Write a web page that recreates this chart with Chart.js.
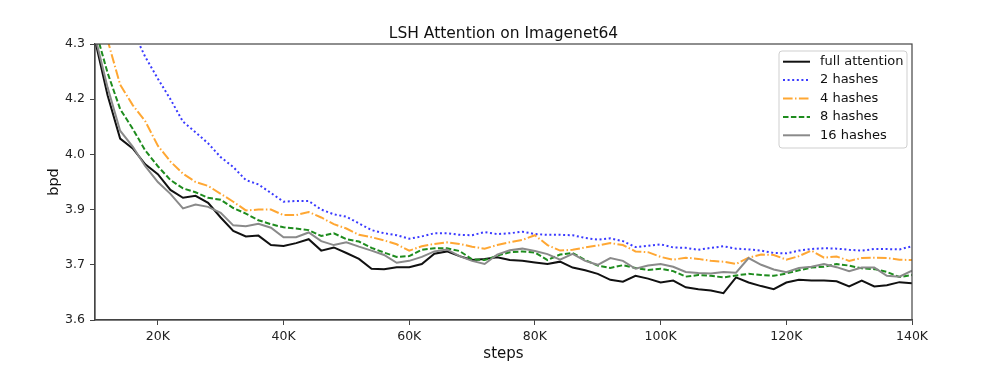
<!DOCTYPE html>
<html>
<head>
<meta charset="utf-8">
<title>LSH Attention on Imagenet64</title>
<script src="https://cdn.jsdelivr.net/npm/chart.js@4.4.0/dist/chart.umd.min.js"></script>
<style>
  html, body { margin: 0; padding: 0; background: #fff; }
  #wrap { width: 999px; height: 380px; }
</style>
</head>
<body>
<div id="wrap"><canvas id="myChart" width="999" height="380"></canvas></div>
<script>
// steps, in thousands
var steps = [10, 12, 14, 16, 18, 20, 22, 24, 26, 28, 30, 32, 34, 36, 38, 40, 42, 44, 46, 48,
             50, 52, 54, 56, 58, 60, 62, 64, 66, 68, 70, 72, 74, 76, 78, 80, 82, 84, 86, 88,
             90, 92, 94, 96, 98, 100, 102, 104, 106, 108, 110, 112, 114, 116, 118, 120, 122, 124, 126, 128,
             130, 132, 134, 136, 138, 140];

var fullAttention = [4.31, 4.17, 4.06, 4.035, 3.995, 3.97, 3.93, 3.91, 3.915, 3.897,
                     3.86, 3.826, 3.812, 3.814, 3.79, 3.788, 3.795, 3.805, 3.776, 3.784,
                     3.77, 3.755, 3.73, 3.729, 3.734, 3.734, 3.742, 3.768, 3.774, 3.762,
                     3.752, 3.755, 3.759, 3.752, 3.75, 3.746, 3.742, 3.748, 3.733, 3.726,
                     3.717, 3.702, 3.697, 3.712, 3.705, 3.695, 3.70, 3.683, 3.678, 3.675,
                     3.668, 3.708, 3.695, 3.686, 3.678, 3.695, 3.702, 3.70, 3.70, 3.698,
                     3.685, 3.70, 3.685, 3.688, 3.696, 3.693];

var hashes2 = [4.60, 4.50, 4.42, 4.335, 4.267, 4.212, 4.16, 4.103, 4.076, 4.048,
               4.013, 3.988, 3.955, 3.944, 3.922, 3.90, 3.902, 3.902, 3.88, 3.868,
               3.862, 3.845, 3.828, 3.82, 3.815, 3.806, 3.812, 3.82, 3.82, 3.816,
               3.815, 3.823, 3.818, 3.82, 3.824, 3.818, 3.816, 3.816, 3.815, 3.808,
               3.804, 3.807, 3.80, 3.785, 3.788, 3.792, 3.784, 3.783, 3.778, 3.783,
               3.787, 3.781, 3.779, 3.776, 3.77, 3.769, 3.776, 3.780, 3.782, 3.781,
               3.778, 3.776, 3.780, 3.780, 3.779, 3.787];

var hashes4 = [4.43, 4.31, 4.197, 4.145, 4.104, 4.042, 4.002, 3.971, 3.95, 3.94,
               3.92, 3.90, 3.878, 3.88, 3.88, 3.866, 3.866, 3.874, 3.86, 3.843,
               3.832, 3.816, 3.81, 3.802, 3.792, 3.776, 3.787, 3.793, 3.797, 3.793,
               3.786, 3.781, 3.79, 3.797, 3.803, 3.815, 3.79, 3.776, 3.778, 3.784,
               3.789, 3.795, 3.79, 3.774, 3.772, 3.76, 3.753, 3.758, 3.755, 3.75,
               3.748, 3.742, 3.758, 3.766, 3.765, 3.753, 3.762, 3.776, 3.758, 3.761,
               3.75, 3.757, 3.758, 3.757, 3.753, 3.752];

var hashes8 = [4.34, 4.227, 4.135, 4.085, 4.03, 3.99, 3.955, 3.934, 3.924, 3.91,
               3.905, 3.884, 3.87, 3.853, 3.843, 3.835, 3.832, 3.828, 3.813, 3.82,
               3.805, 3.799, 3.783, 3.771, 3.76, 3.762, 3.778, 3.782, 3.782, 3.775,
               3.754, 3.752, 3.763, 3.772, 3.774, 3.771, 3.752, 3.766, 3.77, 3.752,
               3.738, 3.732, 3.739, 3.732, 3.727, 3.73, 3.724, 3.71, 3.714, 3.712,
               3.708, 3.713, 3.717, 3.714, 3.712, 3.718, 3.726, 3.733, 3.735, 3.742,
               3.738, 3.731, 3.729, 3.722, 3.709, 3.714];

var hashes16 = [4.32, 4.19, 4.08, 4.04, 3.99, 3.95, 3.92, 3.883, 3.893, 3.887,
                3.872, 3.84, 3.838, 3.844, 3.834, 3.81, 3.81, 3.822, 3.80, 3.79,
                3.797, 3.786, 3.776, 3.765, 3.745, 3.75, 3.76, 3.774, 3.779, 3.762,
                3.75, 3.742, 3.766, 3.777, 3.781, 3.775, 3.767, 3.753, 3.768, 3.75,
                3.74, 3.757, 3.75, 3.73, 3.738, 3.742, 3.735, 3.722, 3.719, 3.718,
                3.722, 3.72, 3.757, 3.74, 3.728, 3.721, 3.732, 3.735, 3.742, 3.734,
                3.724, 3.733, 3.733, 3.712, 3.71, 3.725];

var xTicks = [20, 40, 60, 80, 100, 120, 140];
// evenly spaced ticks, shown rounded to one decimal like the original
var yTicks = [3.6, 3.74, 3.88, 4.02, 4.16, 4.3];

function pts(values) {
    return steps.map(function(s, i) { return {x: s, y: values[i]}; });
}

Chart.defaults.font.family = "'DejaVu Sans', sans-serif";
Chart.defaults.color = '#222';

// box around the axes and a matplotlib style legend in the upper right
var framePlugin = {
    id: 'frameAndLegend',
    afterDatasetsDraw: function(chart) {
        var ctx = chart.ctx;
        var area = chart.chartArea;
        ctx.save();
        ctx.strokeStyle = '#444';
        ctx.lineWidth = 1.2;
        ctx.setLineDash([]);
        ctx.strokeRect(area.left, area.top, area.right - area.left, area.bottom - area.top);

        var sets = chart.data.datasets;
        var w = 128, rowH = 18.4;
        var h = sets.length * rowH + 5;
        var x0 = area.right - w - 5, y0 = area.top + 7;
        ctx.beginPath();
        ctx.roundRect(x0, y0, w, h, 3);
        ctx.fillStyle = 'rgba(255,255,255,0.85)';
        ctx.fill();
        ctx.strokeStyle = '#cfcfcf';
        ctx.lineWidth = 1;
        ctx.stroke();

        ctx.font = "13px 'DejaVu Sans'";
        ctx.textBaseline = 'middle';
        ctx.textAlign = 'left';
        for (var i = 0; i < sets.length; i++) {
            var y = y0 + 10.7 + i * rowH;
            ctx.beginPath();
            ctx.setLineDash(sets[i].borderDash || []);
            ctx.strokeStyle = sets[i].borderColor;
            ctx.lineWidth = sets[i].borderWidth;
            ctx.moveTo(x0 + 4, y);
            ctx.lineTo(x0 + 31, y);
            ctx.stroke();
            ctx.setLineDash([]);
            ctx.fillStyle = '#111';
            ctx.fillText(sets[i].label, x0 + 41, y);
        }
        ctx.restore();
    }
};

var ctx = document.getElementById('myChart');

var myChart = new Chart(ctx, {
    type: 'line',
    data: {
        datasets: [
            {
                label: 'full attention',
                data: pts(fullAttention),
                borderColor: '#111111',
                borderWidth: 2,
                order: 4
            },
            {
                label: '2 hashes',
                data: pts(hashes2),
                borderColor: '#3a3aff',
                borderWidth: 2,
                borderDash: [2, 2.6],
                order: 3
            },
            {
                label: '4 hashes',
                data: pts(hashes4),
                borderColor: '#ffa733',
                borderWidth: 2,
                borderDash: [9.6, 2.4, 1.5, 2.4],
                order: 2
            },
            {
                label: '8 hashes',
                data: pts(hashes8),
                borderColor: '#1e8c1e',
                borderWidth: 2,
                borderDash: [5.5, 2.4],
                order: 1
            },
            {
                label: '16 hashes',
                data: pts(hashes16),
                borderColor: '#8a8a8a',
                borderWidth: 2,
                order: 0
            }
        ]
    },
    options: {
        responsive: false,
        animation: false,
        devicePixelRatio: 1,
        layout: {
            padding: { left: 0, right: 87, top: 0, bottom: 0 }
        },
        elements: {
            point: { radius: 0 },
            line: { tension: 0, fill: false }
        },
        plugins: {
            legend: { display: false },
            tooltip: { enabled: false },
            title: {
                display: true,
                fullSize: false,
                text: 'LSH Attention on Imagenet64',
                color: '#111',
                font: { size: 15.5, weight: 'normal', lineHeight: 1 },
                padding: { top: 26, bottom: 2.5 }
            }
        },
        scales: {
            x: {
                type: 'linear',
                min: 10,
                max: 140,
                afterBuildTicks: function(axis) {
                    axis.ticks = xTicks.map(function(v) { return {value: v}; });
                },
                afterFit: function(axis) {
                    axis.height = 60;
                },
                ticks: {
                    autoSkip: false,
                    maxRotation: 0,
                    padding: 4,
                    font: { size: 12.5 },
                    callback: function(value) { return value + 'K'; }
                },
                grid: {
                    drawOnChartArea: false,
                    drawTicks: true,
                    tickLength: 5,
                    color: '#444'
                },
                border: { display: true, color: '#444', width: 1.2 },
                title: {
                    display: true,
                    text: 'steps',
                    color: '#111',
                    font: { size: 15 },
                    padding: { top: 0, bottom: 17 }
                }
            },
            y: {
                min: 3.6,
                max: 4.3,
                afterBuildTicks: function(axis) {
                    axis.ticks = yTicks.map(function(v) { return {value: v}; });
                },
                afterFit: function(axis) {
                    axis.width = 95;
                },
                ticks: {
                    padding: 5,
                    font: { size: 12.5 },
                    callback: function(value) { return value.toFixed(1); }
                },
                grid: {
                    drawOnChartArea: false,
                    drawTicks: true,
                    tickLength: 5,
                    color: '#444'
                },
                border: { display: true, color: '#444', width: 1.2 },
                title: {
                    display: true,
                    text: 'bpd',
                    color: '#111',
                    font: { size: 14.5 },
                    padding: { top: 46, bottom: 0 }
                }
            }
        }
    },
    plugins: [framePlugin]
});
</script>
</body>
</html>
